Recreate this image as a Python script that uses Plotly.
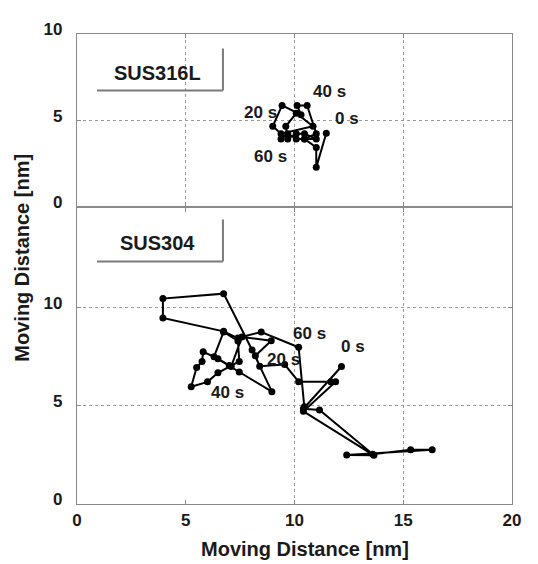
import plotly.graph_objects as go

# ---- data ----
# SUS316L (top panel)
x_316 = [11.46, 11.00, 11.00, 10.46, 11.00, 10.58, 10.12, 10.30, 9.43, 9.00, 9.38, 10.85,
         10.08, 9.60, 9.69, 10.08, 10.46, 11.00, 10.46, 10.08, 9.69, 9.38]
y_316 = [4.28, 2.31, 3.46, 3.95, 4.25, 5.88, 5.88, 5.34, 5.88, 4.68, 4.25, 4.68,
         5.43, 4.68, 3.95, 4.25, 4.25, 3.95, 3.95, 3.95, 4.25, 3.95]

# SUS304 (bottom panel)
x_304 = [12.16, 10.41, 11.15, 13.60, 15.34, 16.33, 12.40, 13.65, 10.41, 11.89, 11.67, 10.19,
         9.55, 8.40, 8.20, 8.93, 7.58, 7.09, 6.48, 5.80, 5.75, 5.50, 5.25, 6.00, 6.48,
         7.46, 7.40, 6.74, 6.30, 7.00, 7.46, 8.96, 8.05, 6.74, 3.95, 3.95, 6.74, 7.40,
         8.47, 10.19, 10.45]
y_304 = [7.00, 4.85, 4.79, 2.53, 2.76, 2.76, 2.50, 2.48, 4.72, 6.23, 6.23, 6.23,
         7.10, 7.01, 7.55, 8.31, 8.50, 7.00, 7.40, 7.75, 7.25, 6.95, 5.97, 6.22, 6.68,
         7.26, 8.30, 8.76, 7.50, 7.05, 6.72, 5.72, 7.84, 10.71, 10.46, 9.47, 8.79, 8.45,
         8.76, 7.98, 4.95]

# time labels: (text, x, y)
labels_316 = [("40 s", 11.6, 6.7), ("20 s", 8.45, 5.45), ("0 s", 12.4, 5.15), ("60 s", 8.9, 2.95)]
labels_304 = [("60 s", 10.7, 8.67), ("0 s", 12.7, 8.04), ("20 s", 9.5, 7.35), ("40 s", 6.9, 5.69)]

x_ticks = [0, 5, 10, 15, 20]
y_ticks_top = [0, 5, 10]
y_ticks_bottom = [0, 5, 10]

FONT = "Liberation Sans, Arial, sans-serif"
TXT = "#1a1a1a"
FRAME = "#8a8a8a"
GRID = "#9a9a9a"

fig = go.Figure()
marker = dict(color="black", size=7)
line = dict(color="black", width=2)
fig.add_trace(go.Scatter(x=x_316, y=y_316, mode="lines+markers", marker=marker, line=line,
                         xaxis="x2", yaxis="y2", showlegend=False))
fig.add_trace(go.Scatter(x=x_304, y=y_304, mode="lines+markers", marker=marker, line=line,
                         xaxis="x", yaxis="y", showlegend=False))

tickfont = dict(family=FONT, size=17, color=TXT, weight="bold")
split = 0.631

common_x = dict(range=[0, 20], showline=True, linecolor=FRAME, linewidth=1.2, mirror="ticks",
                ticks="inside", ticklen=4, tickcolor=FRAME, tickvals=x_ticks, zeroline=False,
                tickfont=tickfont)
common_y = dict(showline=True, linecolor=FRAME, linewidth=1.2, mirror="ticks", ticks="inside",
                ticklen=4, tickcolor=FRAME, showgrid=True, gridcolor=GRID, griddash="dot",
                zeroline=False, tickfont=tickfont, ticklabelstandoff=10, ticklabelshift=-5)
fig.update_layout(
    width=530, height=556,
    margin=dict(l=69, r=26, t=15, b=60),
    plot_bgcolor="white", paper_bgcolor="white",
    xaxis=dict(**common_x, anchor="y", showgrid=False,
               minor=dict(tickmode="array", tickvals=[10, 15], showgrid=True,
                          gridcolor=GRID, griddash="dot", gridwidth=1, ticks="")),
    yaxis=dict(**common_y, domain=[0, split], range=[0, 15.1], tickvals=y_ticks_bottom),
    xaxis2=dict(**common_x, anchor="y2", showticklabels=False, showgrid=True,
                gridcolor=GRID, griddash="dot"),
    yaxis2=dict(**common_y, domain=[split, 1], range=[0, 10], tickvals=y_ticks_top),
)

ann_font = dict(family=FONT, size=17, color=TXT, weight="bold")
annotations = []
for t, x, y in labels_316:
    annotations.append(dict(text=t, x=x, y=y, xref="x2", yref="y2", showarrow=False, font=ann_font))
for t, x, y in labels_304:
    annotations.append(dict(text=t, x=x, y=y, xref="x", yref="y", showarrow=False, font=ann_font))

box_font = dict(family=FONT, size=20, color=TXT, weight="bold")
annotations.append(dict(text="SUS316L", x=3.68, y=7.75, xref="x2", yref="y2", showarrow=False,
                        font=box_font))
annotations.append(dict(text="SUS304", x=3.72, y=13.3, xref="x", yref="y", showarrow=False,
                        font=box_font))

title_font = dict(family=FONT, size=20, color=TXT, weight="bold")
annotations.append(dict(text="Moving Distance [nm]", x=0.525, y=-0.095, xref="paper", yref="paper",
                        showarrow=False, font=title_font, xanchor="center", yanchor="middle"))
annotations.append(dict(text="Moving Distance [nm]", x=-0.126, y=0.5245, xref="paper", yref="paper",
                        showarrow=False, font=title_font, textangle=-90,
                        xanchor="center", yanchor="middle"))
fig.update_layout(annotations=annotations)

shape_line = dict(color="#7a7a7a", width=2)
fig.update_layout(shapes=[
    dict(type="line", xref="x2", yref="y2", x0=6.71, x1=6.71, y0=9.16, y1=6.74, line=shape_line),
    dict(type="line", xref="x2", yref="y2", x0=0.92, x1=6.71, y0=6.74, y1=6.74, line=shape_line),
    dict(type="line", xref="x", yref="y", x0=6.71, x1=6.71, y0=14.49, y1=12.35, line=shape_line),
    dict(type="line", xref="x", yref="y", x0=0.92, x1=6.71, y0=12.35, y1=12.35, line=shape_line),
])

fig.write_html("out.html")
